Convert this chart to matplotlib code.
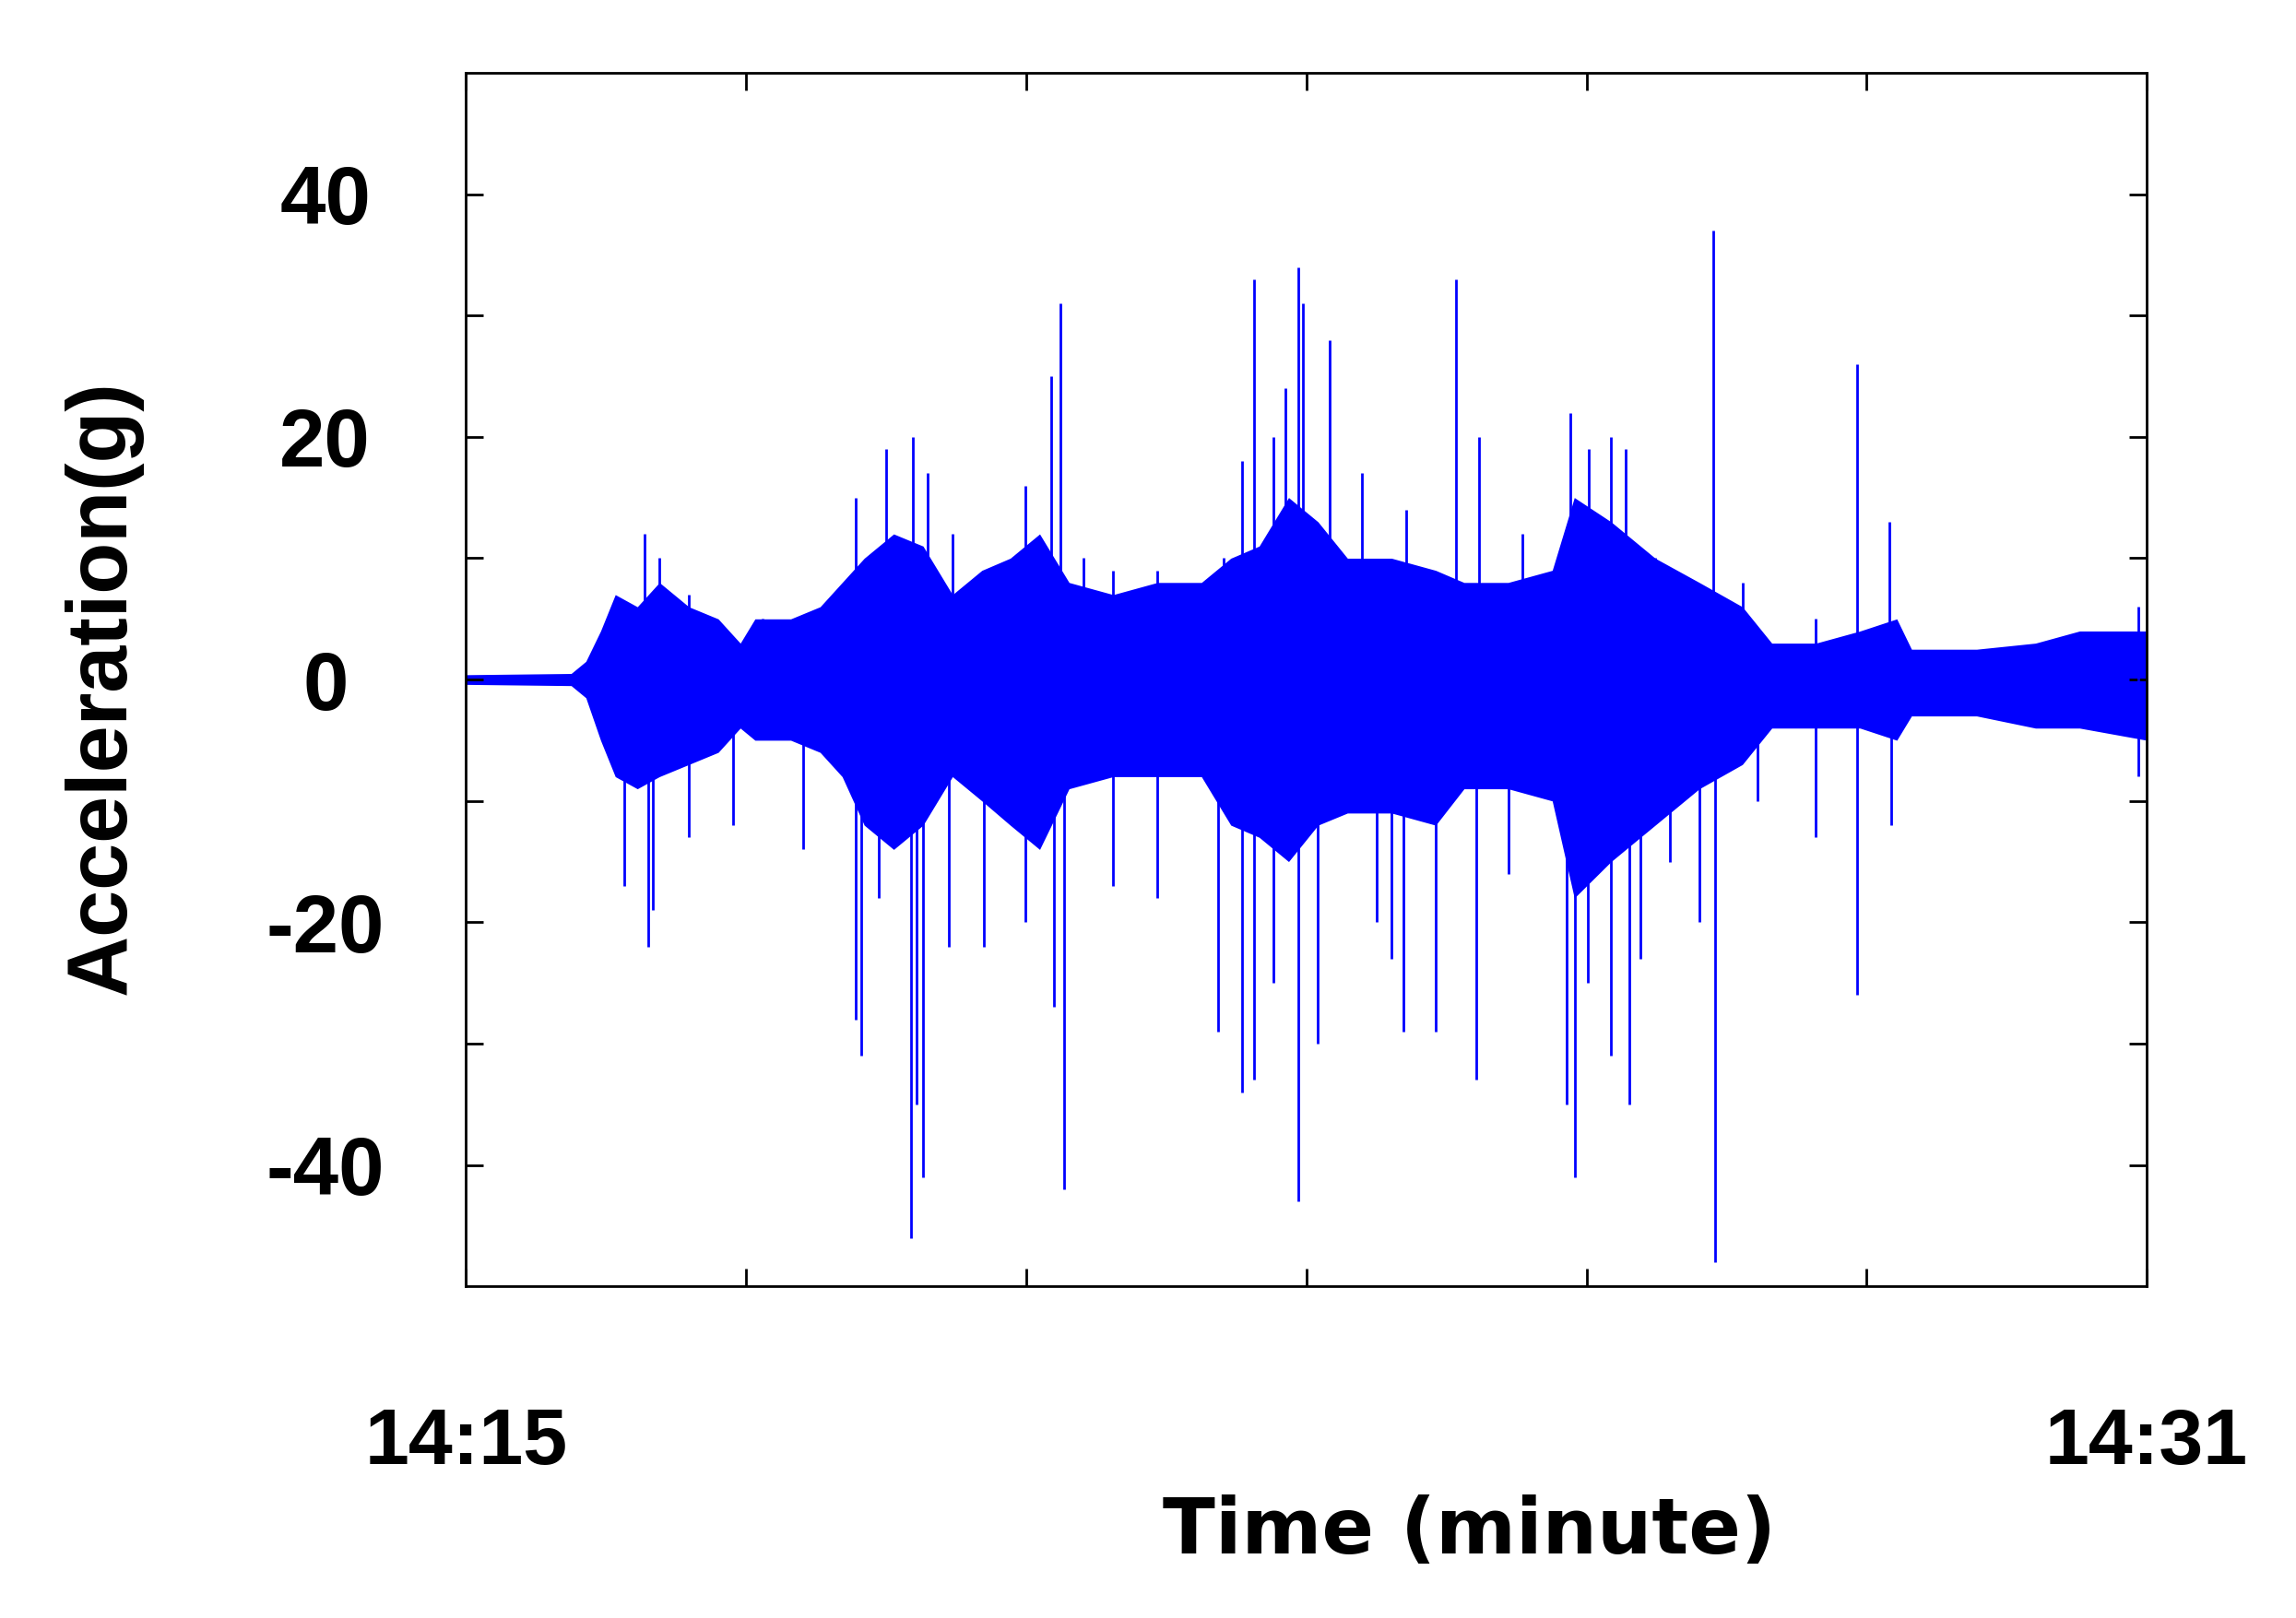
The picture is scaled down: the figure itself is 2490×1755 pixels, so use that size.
import matplotlib
matplotlib.use("Agg")
import matplotlib.pyplot as plt

plt.rcParams['axes.unicode_minus'] = False

# envelope of the dense signal (minutes after 14:15, acceleration g)
env_t = [0, 1.00, 1.14, 1.28, 1.42, 1.63, 1.84, 2.12, 2.40, 2.61,
         2.75, 3.09, 3.37, 3.58, 3.79, 4.07, 4.35, 4.63, 4.91, 5.18,
         5.46, 5.74, 6.16, 6.58, 7.00, 7.28, 7.55, 7.83, 8.11, 8.39,
         8.81, 9.23, 9.50, 9.92, 10.34, 10.55, 10.90, 11.32, 11.74, 12.15,
         12.43, 12.85, 13.27, 13.62, 13.76, 14.38, 14.94, 15.36, 16]
env_hi = [0.4, 0.5, 1.5, 4, 7, 6, 8, 6, 5, 3,
          5, 5, 6, 8, 10, 12, 11, 7, 9, 10,
          12, 8, 7, 8, 8, 10, 11, 15, 13, 10,
          10, 9, 8, 8, 9, 15, 13, 10, 8, 6,
          3, 3, 4, 5, 2.5, 2.5, 3, 4, 4]
env_lo = [-0.4, -0.5, -1.5, -5, -8, -9, -8, -7, -6, -4,
          -5, -5, -6, -8, -12, -14, -12, -8, -10, -12,
          -14, -9, -8, -8, -8, -12, -13, -15, -12, -11,
          -11, -12, -9, -9, -10, -18, -15, -12, -9, -7,
          -4, -4, -4, -5, -3, -3, -4, -4, -5]

# individual spikes
up_t = [1.70, 1.84, 2.12, 2.82, 3.71, 4.0, 4.25, 4.39, 4.63, 5.32, 5.57, 5.66, 5.88,
        6.16, 6.58, 7.21, 7.39, 7.50, 7.69, 7.80, 7.92, 7.97, 8.22, 8.53, 8.95, 9.42,
        9.64, 10.06, 10.51, 10.69, 10.90, 11.04, 11.32, 11.87, 12.15, 12.85, 13.24,
        13.55, 15.92]
up_v = [12, 10, 7, 5, 15, 19, 20, 17, 12, 16, 25, 31, 10, 9, 9, 10, 18, 33, 20, 24,
        34, 31, 28, 17, 14, 33, 20, 12, 22, 19, 20, 19, 10, 37, 8, 5, 26, 13, 6]
lo_t = [1.51, 1.73, 1.78, 2.12, 2.54, 3.21, 3.71, 3.76, 3.93, 4.24, 4.29, 4.35, 4.60,
        4.93, 5.32, 5.60, 5.69, 6.16, 6.58, 7.16, 7.39, 7.50, 7.69, 7.92, 8.11, 8.67,
        8.81, 8.92, 9.23, 9.62, 9.92, 10.48, 10.56, 10.68, 10.90, 11.07, 11.18, 11.46,
        11.74, 11.89, 12.29, 12.85, 13.24, 13.57, 15.92]
lo_v = [-17, -22, -19, -13, -12, -14, -28, -31, -18, -46, -35, -41, -22, -22, -20,
        -27, -42, -17, -18, -29, -34, -33, -25, -43, -30, -20, -23, -29, -29, -33,
        -16, -35, -41, -25, -31, -35, -23, -15, -20, -48, -10, -13, -26, -12, -8]

BLUE = '#0000ff'
FONT = 'Liberation Sans'

fig = plt.figure(figsize=(24.9, 17.55), dpi=100)
ax = fig.add_axes([0.203, 0.205, 0.732, 0.75])

ax.fill_between(env_t, env_lo, env_hi, color=BLUE, linewidth=0)
ax.vlines(up_t, 0, up_v, color=BLUE, linewidth=2)
ax.vlines(lo_t, lo_v, 0, color=BLUE, linewidth=2)

ax.set_xlim(0, 16)
ax.set_ylim(-50, 50)
ax.set_yticks([-40, -20, 0, 20, 40])
ax.set_yticks([-30, -10, 10, 30], minor=True)
ax.set_xticks([16 / 6 * i for i in range(7)])
ax.set_xticklabels([])
ax.tick_params(which='both', direction='in', top=True, right=True, length=14, width=2)
ax.tick_params(axis='y', labelsize=64, pad=110)
for lab in ax.get_yticklabels():
    lab.set_fontweight('bold')
    lab.set_family(FONT)
    lab.set_horizontalalignment('center')
for s in ax.spines.values():
    s.set_linewidth(2)

fig.text(0.203, 0.095, '14:15', ha='center', fontsize=62, fontweight='bold', family=FONT)
fig.text(0.935, 0.095, '14:31', ha='center', fontsize=62, fontweight='bold', family=FONT)
fig.text(0.64, 0.04, 'Time (minute)', ha='center', fontsize=60, fontweight='heavy', family='DejaVu Sans')
fig.text(0.045, 0.575, 'Acceleration(g)', rotation=90, va='center', ha='center',
         fontsize=66, fontweight='bold', family=FONT)

fig.savefig('out.png', dpi=100, facecolor='white')
